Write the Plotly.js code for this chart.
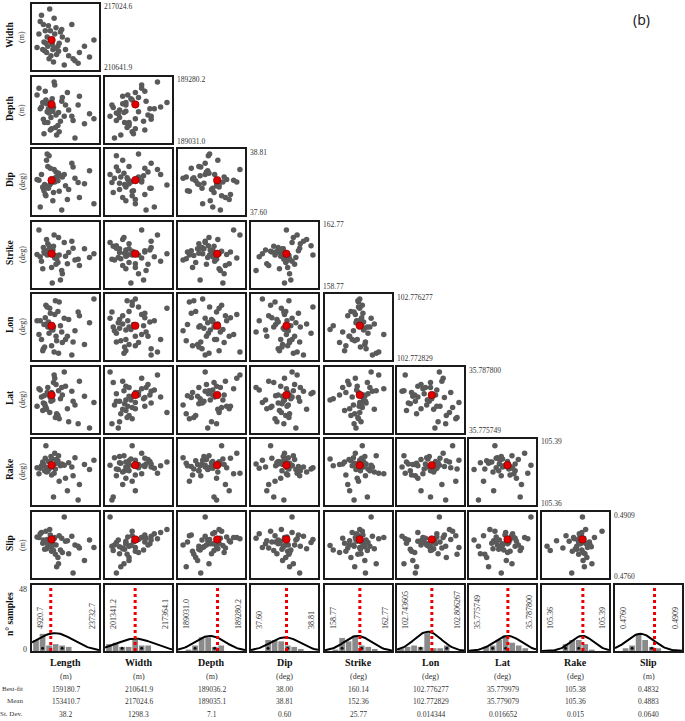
<!DOCTYPE html>
<html><head><meta charset="utf-8">
<script src="https://cdn.plot.ly/plotly-3.0.1.min.js"></script>
<style>html,body{margin:0;padding:0;background:#fff}#chart{width:685px;height:721px}</style>
</head><body><div id="chart"></div>
<script>
// ---------- data ----------
const params = ['Length','Width','Depth','Dip','Strike','Lon','Lat','Rake','Slip'];
const units  = ['(m)','(m)','(m)','(deg)','(deg)','(deg)','(deg)','(deg)','(m)'];
// axis-window labels of the scatter rows (Width..Slip)
const scatTop = ['217024.6','189280.2','38.81','162.77','102.776277','35.787800','105.39','0.4909'];
const scatBot = ['210641.9','189031.0','37.60','158.77','102.772829','35.775749','105.36','0.4760'];
// histogram window labels
const histLo = ['4920.7','201341.2','189031.0','37.60','158.77','102.743605','35.775749','105.36','0.4760'];
const histHi = ['23732.7','217364.1','189280.2','38.81','162.77','102.806267','35.787800','105.39','0.4909'];
// table
const bestFitTxt = ['159180.7','210641.9','189036.2','38.00','160.14','102.776277','35.779979','105.38','0.4832'];
const meanTxt    = ['153410.7','217024.6','189035.1','38.81','152.36','102.772829','35.779079','105.36','0.4883'];
const sdTxt      = ['38.2','1298.3','7.1','0.60','25.77','0.014344','0.016652','0.015','0.0640'];

// samples, as fraction of each parameter's plotted window
const sLength = [0.12,0.18,0.22,0.25,0.28, 0.30,0.33,0.15,0.20,0.35, 0.40,0.45,0.10,0.27,0.32, 0.38,0.24,0.19,0.42,0.50, 0.55,0.60,0.65,0.72,0.80, 0.88,0.95,0.08,0.14,0.26, 0.31,0.36,0.21,0.29,0.17, 0.48,0.53,0.23,0.34,0.44, 0.62,0.70,0.16,0.39,0.05];
const sWidth  = [0.85,0.60,0.35,0.95,0.45, 0.30,0.55,0.70,0.25,0.65, 0.40,0.50,0.75,0.20,0.80, 0.35,0.15,0.40,0.58,0.30, 0.20,0.70,0.12,0.25,0.35, 0.18,0.45,0.55,0.30,0.60, 0.10,0.22,0.50,0.38,0.28, 0.05,0.45,0.68,0.32,0.62, 0.15,0.08,0.42,0.27,0.33];
const sDepth  = [0.55,0.80,0.30,0.62,0.20, 0.48,0.90,0.35,0.60,0.42, 0.15,0.70,0.52,0.38,0.95, 0.25,0.45,0.66,0.32,0.58, 0.50,0.40,0.05,0.72,0.28, 0.44,0.36,0.85,0.62,0.18, 0.54,0.10,0.47,0.68,0.30, 0.40,0.78,0.52,0.22,0.64, 0.33,0.58,0.12,0.46,0.74];
const sDip    = [0.62,0.30,0.75,0.45,0.55, 0.20,0.50,0.40,0.85,0.66, 0.35,0.58,0.10,0.48,0.70, 0.52,0.92,0.28,0.60,0.44, 0.38,0.80,0.56,0.25,0.47, 0.68,0.15,0.53,0.42,0.72, 0.33,0.58,0.95,0.50,0.46, 0.62,0.22,0.40,0.57,0.05, 0.74,0.49,0.36,0.64,0.54];
const sStrike = [0.40,0.55,0.68,0.52,0.30, 0.58,0.45,0.62,0.75,0.35, 0.50,0.20,0.47,0.60,0.82, 0.38,0.65,0.56,0.10,0.48, 0.54,0.72,0.42,0.33,0.60, 0.46,0.52,0.90,0.28,0.57, 0.64,0.44,0.50,0.05,0.53, 0.70,0.36,0.58,0.49,0.25, 0.61,0.43,0.55,0.78,0.51];
const sLon    = [0.30,0.65,0.50,0.80,0.20, 0.45,0.70,0.15,0.55,0.35, 0.90,0.25,0.60,0.48,0.10, 0.75,0.40,0.85,0.52,0.30, 0.62,0.05,0.44,0.68,0.22, 0.57,0.95,0.38,0.12,0.72, 0.50,0.28,0.82,0.46,0.18, 0.64,0.35,0.58,0.92,0.42, 0.26,0.74,0.54,0.08,0.60];
const sLat    = [0.55,0.40,0.70,0.30,0.62, 0.50,0.85,0.45,0.35,0.75, 0.20,0.58,0.66,0.48,0.90, 0.25,0.60,0.38,0.52,0.72, 0.15,0.64,0.42,0.80,0.56, 0.05,0.46,0.68,0.33,0.54, 0.78,0.28,0.62,0.50,0.44, 0.95,0.36,0.58,0.22,0.70, 0.48,0.12,0.57,0.65,0.40];
const sRake   = [0.60,0.72,0.52,0.66,0.45, 0.58,0.80,0.63,0.50,0.70, 0.35,0.62,0.56,0.75,0.48, 0.68,0.55,0.92,0.60,0.40, 0.65,0.58,0.73,0.30,0.62, 0.54,0.69,0.47,0.66,0.59, 0.10,0.64,0.57,0.71,0.52, 0.61,0.20,0.67,0.55,0.63, 0.44,0.05,0.60,0.76,0.57];
const sSlip   = [0.70,0.55,0.48,0.75,0.40, 0.52,0.62,0.58,0.44,0.50, 0.65,0.38,0.68,0.47,0.60, 0.30,0.54,0.72,0.42,0.56, 0.36,0.64,0.50,0.45,0.25, 0.58,0.46,0.62,0.53,0.66, 0.41,0.15,0.59,0.49,0.43, 0.95,0.57,0.52,0.35,0.61, 0.05,0.48,0.55,0.20,0.63];
const samples = [sLength,sWidth,sDepth,sDip,sStrike,sLon,sLat,sRake,sSlip];
// best-fit model position (fraction of window)
const bestFit = [0.28,0.45,0.59,0.53,0.52,0.52,0.58,0.61,0.59];

// histograms: bin centres (fraction of window) and counts per parameter
const binCenters = [0.06,0.1575,0.255,0.3525,0.45,0.5475,0.645,0.7425,0.84,0.9375];
const hLength = [8,12.5,4,5,4,3,0,0,0,0];
const hWidth  = [5,6,3,3,8,4,4,0,0,0];
const hDepth  = [0,1,4,10,10,3,4,0,0,0];
const hDip    = [0,0,8,8,7,4,3,1.5,0,0];
const hStrike = [0,1,9.5,7,11,4,3,1.5,0,0];
const hLon    = [2,3,4,3,13,2,2,4,0,0];
const hLat    = [0,0,3,4,8,11,6,4,2,0];
const hRake   = [0,0,0,5,8,8,5,1,0,0];
const hSlip   = [0,2,4,12,8,3,2,0,0,0];
const hists = [hLength,hWidth,hDepth,hDip,hStrike,hLon,hLat,hRake,hSlip];
// fitted normal curve: centre, peak height, sigma (fraction of window)
const gCenter = [0.34,0.45,0.48,0.51,0.49,0.46,0.58,0.60,0.38];
const gPeak   = [13,9,11,10,11,14,11,11,12.5];
const gSigma  = [0.28,0.28,0.22,0.22,0.20,0.20,0.20,0.17,0.20];
// small black markers in the histograms
const dotsX = [[0.1575,0.45],[0.255,0.5475],[0.255,0.5475],[0.255,0.5475],[0.255,0.5475],[0.3525,0.7425],[0.3525,0.5475],[0.3525,0.5475],[0.255,0.5475]];
const histMax = 48;

// ---------- geometry ----------
const W = 685, H = 721;
const colLeft = [32,105,178,251,325,397,469,542,615];
const rowTop  = [4,77,149,222,294,367,439,512,585];
const PW = 67, PH = 66;
const px = x => x / W;
const py = y => 1 - y / H;

const traces = [];
const layout = {
  width: W, height: H, margin: {l:0,r:0,t:0,b:0},
  paper_bgcolor: '#fff', plot_bgcolor: '#fff', showlegend: false,
  annotations: [], font: {family: 'Liberation Serif, serif', color: '#222'}
};
let p = 0;
function addAxes(c, r, xr, yr) {
  p += 1;
  const xn = p === 1 ? 'xaxis' : 'xaxis' + p;
  const yn = p === 1 ? 'yaxis' : 'yaxis' + p;
  const common = {showline:true, mirror:true, linecolor:'#1a1a1a', linewidth:2, showticklabels:false,
    ticks:'', showgrid:false, zeroline:false, fixedrange:true};
  layout[xn] = Object.assign({}, common, {domain:[px(colLeft[c]), px(colLeft[c]+PW)], range:xr, anchor: p===1?'y':'y'+p});
  layout[yn] = Object.assign({}, common, {domain:[py(rowTop[r]+PH), py(rowTop[r])], range:yr, anchor: p===1?'x':'x'+p});
  return {xaxis: p===1?'x':'x'+p, yaxis: p===1?'y':'y'+p};
}
function ann(o) { layout.annotations.push(Object.assign({xref:'paper', yref:'paper', showarrow:false}, o)); }

// scatter panels
for (let r = 1; r < 9; r++) {
  for (let c = 0; c < r; c++) {
    const ax = addAxes(c, r-1, [-0.03,1.03], [-0.03,1.03]);
    traces.push(Object.assign({type:'scatter', mode:'markers', x:samples[c], y:samples[r],
      marker:{size:5.5, color:'#5a5a5a'}, hoverinfo:'skip'}, ax));
    traces.push(Object.assign({type:'scatter', mode:'markers', x:[bestFit[c]], y:[bestFit[r]],
      marker:{size:7.5, color:'#e00000', line:{color:'#700', width:0.6}}, hoverinfo:'skip'}, ax));
  }
  // window labels right of the diagonal panel
  const c = r - 1, right = colLeft[c] + PW;
  ann({x:px(right+3), y:py(rowTop[r-1]+3), xanchor:'left', yanchor:'middle', text:scatTop[r-1], font:{size:7.5, color:'#333'}});
  ann({x:px(right+3), y:py(rowTop[r-1]+PH-2), xanchor:'left', yanchor:'middle', text:scatBot[r-1], font:{size:7.5, color:'#333'}});
  // row labels
  const cy = rowTop[r-1] + PH/2;
  ann({x:px(10), y:py(cy-2), xanchor:'center', yanchor:'middle', textangle:-90, text:'<b>'+params[r]+'</b>', font:{size:9.5, color:'#111'}});
  ann({x:px(22), y:py(cy), xanchor:'center', yanchor:'middle', textangle:-90, text:units[r], font:{size:8, color:'#333'}});
}

// histogram panels
const gx = [];
for (let i = 0; i <= 50; i++) gx.push(i / 50);
for (let c = 0; c < 9; c++) {
  const ax = addAxes(c, 8, [0,1], [0,histMax]);
  traces.push(Object.assign({type:'bar', x:binCenters, y:hists[c], width:0.085,
    marker:{color:'#8a8a8a', line:{width:0}}, hoverinfo:'skip'}, ax));
  traces.push(Object.assign({type:'scatter', mode:'markers', x:dotsX[c], y:dotsX[c].map(() => 2),
    marker:{size:3, color:'#111'}, hoverinfo:'skip'}, ax));
  traces.push(Object.assign({type:'scatter', mode:'lines', x:gx,
    y:gx.map(v => gPeak[c]*Math.exp(-0.5*Math.pow((v-gCenter[c])/gSigma[c],2))),
    line:{color:'#000', width:2}, hoverinfo:'skip'}, ax));
  traces.push(Object.assign({type:'scatter', mode:'lines', x:[bestFit[c],bestFit[c]], y:[0,histMax],
    line:{color:'#ee0000', width:3, dash:'dot'}, hoverinfo:'skip'}, ax));
  const left = colLeft[c], right = left + PW, cx = left + PW/2;
  ann({x:px(left+8), y:py(631), xanchor:'center', yanchor:'bottom', textangle:-90, text:histLo[c], font:{size:8, color:'#333'}});
  ann({x:px(right-7), y:py(631), xanchor:'center', yanchor:'bottom', textangle:-90, text:histHi[c], font:{size:8, color:'#333'}});
  ann({x:px(cx), y:py(662), xanchor:'center', yanchor:'middle', text:'<b>'+params[c]+'</b>', font:{size:10, color:'#111'}});
  ann({x:px(cx), y:py(676), xanchor:'center', yanchor:'middle', text:units[c], font:{size:8, color:'#333'}});
  ann({x:px(cx), y:py(689), xanchor:'center', yanchor:'middle', text:bestFitTxt[c], font:{size:7.5, color:'#333'}});
  ann({x:px(cx), y:py(701), xanchor:'center', yanchor:'middle', text:meanTxt[c], font:{size:7.5, color:'#333'}});
  ann({x:px(cx), y:py(714), xanchor:'center', yanchor:'middle', text:sdTxt[c], font:{size:7.5, color:'#333'}});
}
ann({x:px(25), y:py(689), xanchor:'right', yanchor:'middle', text:'Best-fit', font:{size:7, color:'#333'}});
ann({x:px(25), y:py(701), xanchor:'right', yanchor:'middle', text:'Mean', font:{size:7, color:'#333'}});
ann({x:px(25), y:py(714), xanchor:'right', yanchor:'middle', text:'St. Dev.', font:{size:7, color:'#333'}});
ann({x:px(10), y:py(614), xanchor:'center', yanchor:'middle', textangle:-90, text:'<b>n° samples</b>', font:{size:9.5, color:'#111'}});
ann({x:px(29), y:py(589), xanchor:'right', yanchor:'middle', text:String(histMax), font:{size:8, color:'#333'}});
ann({x:px(29), y:py(649), xanchor:'right', yanchor:'middle', text:'0', font:{size:8, color:'#333'}});
ann({x:px(641), y:py(20), xanchor:'center', yanchor:'middle', text:'(b)', font:{size:14, color:'#222', family:'Noto Sans, sans-serif'}});

Plotly.newPlot('chart', traces, layout, {staticPlot:true, displayModeBar:false});
</script>
</body></html>
